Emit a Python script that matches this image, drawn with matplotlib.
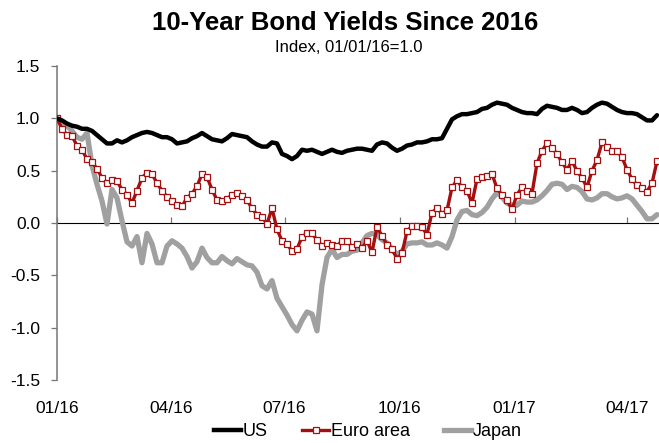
import numpy as np
import pandas as pd
import matplotlib
matplotlib.use('Agg')
import matplotlib.pyplot as plt
from matplotlib.lines import Line2D

# 10-year yields indexed to 01/01/16 = 1.0, sampled every 4 days
start = '2016-01-01'
us = [1.00, 0.98, 0.95, 0.93, 0.92, 0.90, 0.90, 0.88, 0.84, 0.80,
      0.76, 0.76, 0.79, 0.77, 0.79, 0.82, 0.84, 0.86, 0.87, 0.86,
      0.84, 0.82, 0.82, 0.80, 0.76, 0.77, 0.78, 0.81, 0.83, 0.86,
      0.83, 0.80, 0.79, 0.78, 0.81, 0.85, 0.84, 0.83, 0.82, 0.78,
      0.75, 0.73, 0.73, 0.77, 0.76, 0.66, 0.64, 0.61, 0.64, 0.70,
      0.69, 0.70, 0.68, 0.66, 0.68, 0.70, 0.68, 0.67, 0.69, 0.70,
      0.71, 0.71, 0.70, 0.69, 0.75, 0.77, 0.76, 0.72, 0.69, 0.71,
      0.74, 0.75, 0.77, 0.77, 0.78, 0.80, 0.80, 0.81, 0.90, 0.99,
      1.02, 1.04, 1.04, 1.05, 1.06, 1.09, 1.10, 1.13, 1.15, 1.14,
      1.13, 1.10, 1.08, 1.06, 1.05, 1.05, 1.04, 1.09, 1.12, 1.11,
      1.10, 1.08, 1.08, 1.10, 1.08, 1.05, 1.06, 1.10, 1.13, 1.15,
      1.14, 1.11, 1.08, 1.06, 1.05, 1.05, 1.04, 1.01, 0.98, 0.98,
      1.03]
euro = [1.00, 0.90, 0.84, 0.83, 0.74, 0.70, 0.61, 0.58, 0.52, 0.43,
        0.38, 0.41, 0.40, 0.32, 0.27, 0.19, 0.31, 0.43, 0.48, 0.47,
        0.38, 0.31, 0.25, 0.21, 0.17, 0.16, 0.24, 0.28, 0.35, 0.47,
        0.44, 0.32, 0.22, 0.21, 0.23, 0.27, 0.29, 0.26, 0.22, 0.14,
        0.08, 0.06, -0.01, 0.14, -0.06, -0.17, -0.20, -0.27, -0.25, -0.13,
        -0.10, -0.10, -0.16, -0.22, -0.19, -0.21, -0.22, -0.17, -0.17, -0.23,
        -0.20, -0.24, -0.17, -0.28, -0.04, -0.12, -0.21, -0.25, -0.34, -0.29,
        -0.08, -0.03, -0.03, -0.04, -0.11, 0.10, 0.14, 0.09, 0.12, 0.34,
        0.41, 0.34, 0.31, 0.19, 0.42, 0.44, 0.45, 0.47, 0.33, 0.27,
        0.22, 0.13, 0.27, 0.34, 0.31, 0.28, 0.57, 0.69, 0.76, 0.72,
        0.66, 0.58, 0.51, 0.59, 0.50, 0.43, 0.34, 0.50, 0.60, 0.77,
        0.73, 0.69, 0.69, 0.63, 0.51, 0.42, 0.36, 0.33, 0.30, 0.38,
        0.59]
japan = [1.00, 0.96, 0.93, 0.88, 0.82, 0.80, 0.86, 0.55, 0.37, 0.21,
         -0.01, 0.32, 0.24, 0.02, -0.18, -0.22, -0.13, -0.38, -0.10, -0.20,
         -0.38, -0.38, -0.22, -0.17, -0.20, -0.24, -0.32, -0.43, -0.37, -0.24,
         -0.33, -0.38, -0.38, -0.32, -0.36, -0.39, -0.34, -0.37, -0.40, -0.41,
         -0.47, -0.60, -0.63, -0.55, -0.72, -0.80, -0.88, -0.97, -1.03, -0.93,
         -0.85, -0.87, -1.03, -0.59, -0.33, -0.25, -0.33, -0.30, -0.30, -0.27,
         -0.26, -0.19, -0.12, -0.10, -0.11, -0.16, -0.19, -0.25, -0.30, -0.27,
         -0.20, -0.19, -0.19, -0.18, -0.21, -0.21, -0.19, -0.21, -0.24, -0.13,
         0.03, 0.11, 0.12, 0.08, 0.07, 0.10, 0.15, 0.23, 0.29, 0.25,
         0.19, 0.17, 0.17, 0.21, 0.20, 0.20, 0.22, 0.26, 0.31, 0.37,
         0.38, 0.37, 0.32, 0.35, 0.34, 0.30, 0.23, 0.22, 0.24, 0.28,
         0.28, 0.25, 0.23, 0.24, 0.26, 0.23, 0.17, 0.11, 0.04, 0.04,
         0.08]

tick_dates = ['2016-01-01', '2016-04-01', '2016-07-01', '2016-10-01', '2017-01-01', '2017-04-01']
tick_labels = ['01/16', '04/16', '07/16', '10/16', '01/17', '04/17']
y_ticks = [1.5, 1.0, 0.5, 0.0, -0.5, -1.0, -1.5]

dates = pd.date_range(start, periods=len(us), freq='4D')

plt.rcParams['font.family'] = ['Liberation Sans', 'DejaVu Sans']

RED = '#a50f0f'
GRAY = '#a0a0a0'
AXIS_GRAY = '#777777'

fig = plt.figure(figsize=(6.59, 4.43), dpi=100)
ax = fig.add_axes([57 / 659, 63 / 443, 602 / 659, 314 / 443])

ax.plot(dates, japan, color=GRAY, lw=3.8, zorder=2, solid_capstyle='round')
ax.plot(dates, euro, color=RED, lw=2.4, zorder=3, marker='s', ms=4.2,
        mfc='white', mec=RED, mew=0.9)
ax.plot(dates, us, color='black', lw=3.2, zorder=4, solid_capstyle='round')

ax.set_ylim(-1.5, 1.5)
ax.set_yticks(y_ticks)
ax.set_yticklabels([f'{v:.1f}' for v in y_ticks])
x0 = pd.Timestamp(start)
ax.set_xlim(x0, x0 + pd.Timedelta(days=481.6))

tick_pos = pd.to_datetime(tick_dates)
ax.set_xticks(tick_pos)
ax.set_xticklabels(tick_labels)
ax.tick_params(axis='x', length=0, pad=15, labelsize=12.5)
ax.tick_params(axis='y', direction='out', length=4, width=0.9, color=AXIS_GRAY,
               pad=8, labelsize=12.5)

for side in ['top', 'right', 'bottom']:
    ax.spines[side].set_visible(False)
ax.spines['left'].set_color(AXIS_GRAY)
ax.spines['left'].set_linewidth(1.1)

# zero line carries the date ticks
zero_ax = ax.secondary_xaxis(0.5)
zero_ax.set_xticks(tick_pos)
zero_ax.set_xticklabels([])
zero_ax.tick_params(direction='out', length=4, width=0.9, color=AXIS_GRAY)
zero_ax.spines['bottom'].set_color('black')
zero_ax.spines['bottom'].set_linewidth(1.2)

fig.text(345 / 659, 1 - 23 / 443, '10-Year Bond Yields Since 2016', ha='center', va='center',
         fontsize=18.5, fontweight='bold')
fig.text(349 / 659, 1 - 48 / 443, 'Index, 01/01/16=1.0', ha='center', va='center', fontsize=12)

handles = [
    Line2D([], [], color='black', lw=3.2),
    Line2D([], [], color=RED, lw=2.4, marker='s', ms=4, mfc='white', mec=RED, mew=0.9),
    Line2D([], [], color=GRAY, lw=3.8),
]
fig.legend(handles, ['US', 'Euro area', 'Japan'], loc='center', bbox_to_anchor=(368 / 659, 1 - 432 / 443),
           ncol=3, frameon=False, fontsize=13, handlelength=1.5, handletextpad=0.1,
           columnspacing=1.9, borderpad=0.0)

fig.savefig('out.png', dpi=100)
